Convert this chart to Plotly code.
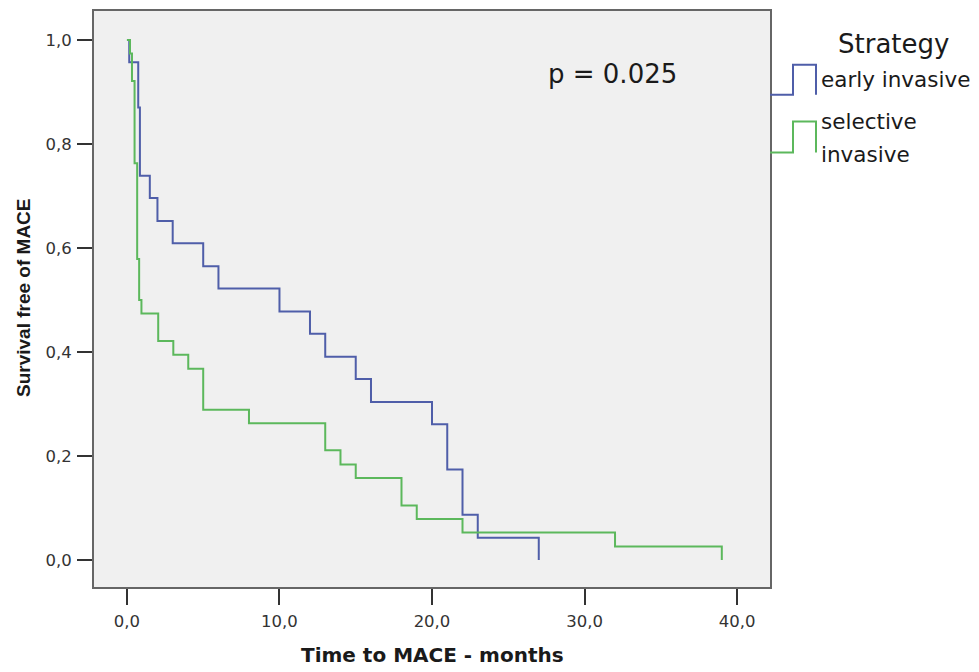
import plotly.graph_objects as go

# Kaplan-Meier step data
early_t = [0.0, 0.15, 0.74, 0.85, 1.5, 2.0, 3.0, 5.0, 6.0, 10.0, 12.0, 13.0, 15.0, 16.0, 20.0, 21.0, 22.0, 23.0, 27.0]
early_s = [1.0, 0.957, 0.870, 0.739, 0.696, 0.652, 0.609, 0.565, 0.522, 0.478, 0.435, 0.391, 0.348, 0.304, 0.261, 0.174, 0.087, 0.043, 0.0]

sel_t = [0.0, 0.2, 0.33, 0.5, 0.67, 0.8, 0.95, 2.05, 3.04, 4.02, 5.0, 8.0, 13.0, 14.0, 15.0, 18.0, 19.0, 22.0, 32.0, 39.0]
sel_s = [1.0, 0.974, 0.921, 0.763, 0.579, 0.500, 0.474, 0.421, 0.395, 0.368, 0.289, 0.263, 0.211, 0.184, 0.158, 0.105, 0.079, 0.053, 0.026, 0.0]

x_ticks = [0, 10, 20, 30, 40]
y_ticks = [0, 0.2, 0.4, 0.6, 0.8, 1.0]

BLUE = "#4f5ea9"
GREEN = "#5cb85c"

fig = go.Figure()
fig.add_trace(go.Scatter(x=early_t, y=early_s, mode="lines", line=dict(color=BLUE, width=2, shape="hv"),
                         name="early invasive", showlegend=False))
fig.add_trace(go.Scatter(x=sel_t, y=sel_s, mode="lines", line=dict(color=GREEN, width=2, shape="hv"),
                         name="selective invasive", showlegend=False))

W, H = 979, 672
L, R, T, B = 94, 770, 9, 587


def px(x):
    return (x - L) / (R - L)


def py(y):
    return (B - y) / (B - T)


# custom step-shaped legend icons
def step_path(x0, x1, x2, ylow, yhigh):
    return (f"M {px(x0)},{py(ylow)} L {px(x1)},{py(ylow)} L {px(x1)},{py(yhigh)} "
            f"L {px(x2)},{py(yhigh)} L {px(x2)},{py(ylow)}")


fig.add_shape(type="path", xref="paper", yref="paper", path=step_path(770, 793, 816, 93, 63),
              line=dict(color=BLUE, width=2))
fig.add_shape(type="path", xref="paper", yref="paper", path=step_path(770, 793, 816, 151, 120),
              line=dict(color=GREEN, width=2))

txt = dict(family="DejaVu Sans", color="#1a1a1a")
fig.add_annotation(x=px(893), y=py(42), xref="paper", yref="paper", text="Strategy", showarrow=False,
                   xanchor="center", yanchor="middle", font=dict(size=26, **txt))
fig.add_annotation(x=px(819), y=py(78), xref="paper", yref="paper", text="early invasive", showarrow=False,
                   xanchor="left", yanchor="middle", font=dict(size=21.5, **txt))
fig.add_annotation(x=px(819), y=py(120), xref="paper", yref="paper", text="selective", showarrow=False,
                   xanchor="left", yanchor="middle", font=dict(size=21.5, **txt))
fig.add_annotation(x=px(819), y=py(153), xref="paper", yref="paper", text="invasive", showarrow=False,
                   xanchor="left", yanchor="middle", font=dict(size=21.5, **txt))
fig.add_annotation(x=px(612), y=py(72), xref="paper", yref="paper", text="p = 0.025", showarrow=False,
                   xanchor="center", yanchor="middle", font=dict(size=26, **txt))

# axis titles
fig.add_annotation(x=px(432), y=py(655), xref="paper", yref="paper", text="<b>Time to MACE - months</b>",
                   showarrow=False, xanchor="center", yanchor="middle",
                   font=dict(family="DejaVu Sans", size=20, color="#1a1a1a"))
fig.add_annotation(x=px(23), y=py(297), xref="paper", yref="paper", text="<b>Survival free of MACE</b>",
                   showarrow=False, xanchor="center", yanchor="middle", textangle=-90,
                   font=dict(family="Liberation Sans", size=19, color="#1a1a1a"))

fig.update_layout(
    width=W, height=H,
    margin=dict(l=L, r=W - R, t=T, b=H - B, pad=0),
    paper_bgcolor="white",
    plot_bgcolor="#f0f0f0",
    separators=",.",
    showlegend=False,
)
fig.update_xaxes(range=[-2.16, 42.16], tickvals=x_ticks, tickformat=".1f",
                 showgrid=False, zeroline=False, showline=True, mirror=True,
                 linecolor="#666666", linewidth=2, ticks="outside", ticklen=16, tickwidth=2,
                 tickcolor="#333333", ticklabelstandoff=2,
                 tickfont=dict(family="DejaVu Sans", size=16.5, color="#333333"))
fig.update_yaxes(range=[-0.0517, 1.0556], tickvals=y_ticks, tickformat=".1f",
                 showgrid=False, zeroline=False, showline=True, mirror=True,
                 linecolor="#666666", linewidth=2, ticks="outside", ticklen=15, tickwidth=2,
                 tickcolor="#333333", ticklabelstandoff=2,
                 tickfont=dict(family="DejaVu Sans", size=16.5, color="#333333"))

fig.write_html("out.html", config={"displayModeBar": False},
               post_script="document.body.style.margin='0';document.body.style.overflow='hidden';")
